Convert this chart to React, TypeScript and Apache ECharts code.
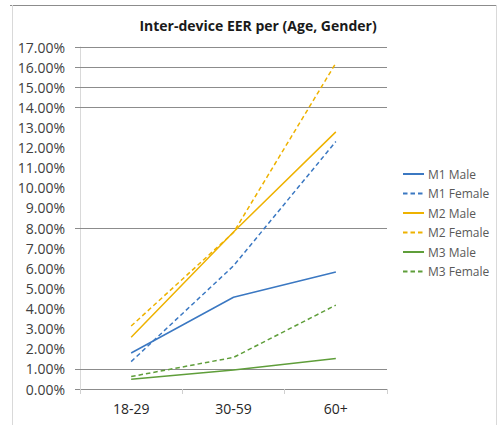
import React, { useEffect, useRef } from "react";
import * as echarts from "echarts";

const categories = ["18-29", "30-59", "60+"];
const m1Male = [1.79, 4.56, 5.82];
const m1Female = [1.36, 6.12, 12.3];
const m2Male = [2.57, 7.8, 12.78];
const m2Female = [3.13, 7.78, 16.2];
const m3Male = [0.48, 0.95, 1.52];
const m3Female = [0.62, 1.57, 4.17];
const gridValues = [17, 16, 15, 14, 8, 1];
const tickValues = [0, 1, 8, 14, 15, 16, 17];

const BLUE = "#3b78c2";
const GOLD = "#eeb200";
const GREEN = "#5f9e3a";
const FONT = "Open Sans";

export default function App() {
  const ref = useRef<HTMLDivElement>(null);
  useEffect(() => {
    if (!ref.current) return;
    const chart = echarts.init(ref.current, undefined, { renderer: "svg" });
    const mk = (name: string, data: number[], color: string, dashed: boolean, extra: any = {}) => ({
      name,
      type: "line",
      data,
      symbol: "none",
      silent: true,
      lineStyle: { color, width: 1.5, type: dashed ? [4.5, 3] : "solid" },
      itemStyle: { color },
      z: 3,
      ...extra,
    });
    chart.setOption({
      animation: false,
      backgroundColor: "#ffffff",
      textStyle: { fontFamily: FONT },
      title: {
        text: "Inter-device EER per (Age, Gender)",
        left: 253,
        textAlign: "center",
        top: 13,
        textStyle: { fontFamily: FONT, fontSize: 14, fontWeight: "bold", color: "#1a1a1a" },
      },
      graphic: [
        { type: "line", shape: { x1: 10, y1: 5.5, x2: 496, y2: 5.5 }, style: { stroke: "#8c8c8c", lineWidth: 1 } },
        { type: "line", shape: { x1: 12.5, y1: 5, x2: 12.5, y2: 425 }, style: { stroke: "#d9d9d9", lineWidth: 1 } },
        { type: "line", shape: { x1: 496.5, y1: 5, x2: 496.5, y2: 425 }, style: { stroke: "#d9d9d9", lineWidth: 1 } },
      ],
      legend: {
        orient: "vertical",
        left: 402,
        top: 168,
        padding: 0,
        itemWidth: 21,
        itemHeight: 14,
        itemGap: 7.5,
        itemStyle: { opacity: 0 },
        textStyle: { fontFamily: FONT, fontSize: 12, color: "#595959", padding: [0, 0, 0, -1] },
        data: ["M1 Male", "M1 Female", "M2 Male", "M2 Female", "M3 Male", "M3 Female"],
      },
      grid: { left: 80, right: 110, top: 47, bottom: 36 },
      xAxis: {
        type: "category",
        data: categories,
        boundaryGap: true,
        axisLine: { lineStyle: { color: "#8c8c8c", width: 1 } },
        axisTick: { show: true, length: 5, lineStyle: { color: "#d0d0d0" } },
        axisLabel: { fontFamily: FONT, fontSize: 14, color: "#262626", margin: 12 },
        splitLine: { show: false },
      },
      yAxis: {
        type: "value",
        min: 0,
        max: 17,
        interval: 1,
        axisLine: { show: true, lineStyle: { color: "#d9d9d9", width: 1 } },
        axisTick: { show: true, length: 5, customValues: tickValues, lineStyle: { color: "#8c8c8c" } },
        axisLabel: {
          fontFamily: FONT,
          fontSize: 14,
          color: "#404040",
          margin: 15,
          formatter: (v: number) => v.toFixed(2) + "%",
        },
        splitLine: { show: false },
      },
      series: [
        mk("M1 Male", m1Male, BLUE, false, {
          markLine: {
            silent: true,
            symbol: "none",
            label: { show: false },
            lineStyle: { color: "#8c8c8c", width: 1, type: "solid" },
            data: gridValues.map((v) => ({ yAxis: v })),
            z: 1,
          },
        }),
        mk("M1 Female", m1Female, BLUE, true),
        mk("M2 Male", m2Male, GOLD, false),
        mk("M2 Female", m2Female, GOLD, true),
        mk("M3 Male", m3Male, GREEN, false),
        mk("M3 Female", m3Female, GREEN, true),
      ],
    });
    return () => chart.dispose();
  }, []);
  return <div ref={ref} style={{ position: "fixed", left: 0, top: 0, width: 497, height: 425 }} />;
}
